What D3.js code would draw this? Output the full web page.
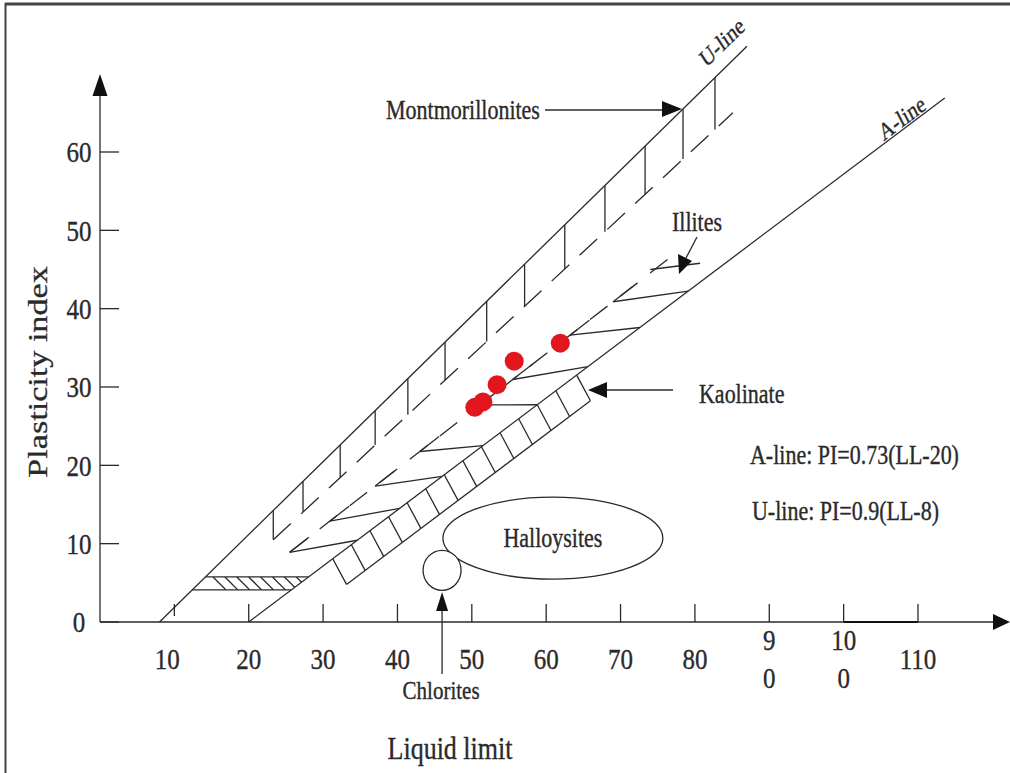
<!DOCTYPE html>
<html><head><meta charset="utf-8">
<script src="https://cdn.jsdelivr.net/npm/d3@7"></script>
<style>
html,body{margin:0;padding:0;background:#fff;}
svg{display:block;}
text{font-family:"Liberation Serif","Times New Roman",serif;fill:#2a2a2a;stroke:#2a2a2a;stroke-width:0.3px;}
</style>
</head><body>
<svg id="c" width="1010" height="773"></svg>
<script>
// ---------- data (liquid limit LL, plasticity index PI) ----------
const xTicks = [10,20,30,40,50,60,70,80,90,100,110];
const xTickLabels = [["10"],["20"],["30"],["40"],["50"],["60"],["70"],["80"],["9","0"],["10","0"],["110"]];
const yTicks = [0,10,20,30,40,50,60];
const yTickLabels = ["0","10","20","30","40","50","60"];

const uLine = [[8,0],[87.0,73.5]];
const aLine = [[20,0],[113.6,66.9]];
const montLower = [[23.3,10.5],[85.1,65.0]];     // dashed lower limit of montmorillonites
const illiteUpper = [[25.5,8.9],[78.0,47.5]];    // dashed upper limit of illites
const montHatchLL = [23.3,27.3,32.3,37.0,41.4,46.4,52.0,57.1,62.5,67.9,73.3,78.4,82.7];
const illiteHatchLeftLL  = [25.5,30.9,37.0,43.0,51.1,55.5,63.2,69.0];
const illiteHatchRightLL = [34.6,40.3,46.0,51.5,58.8,65.6,72.6,79.1];
const illiteTopHatch = [[74.0,45.0],[80.7,45.8]];
const kaoTopLL = [31.3,33.8,36.3,38.8,41.3,43.8,46.3,48.8,51.3,53.8,56.3,58.8,61.3,64.1];
const kaoShiftLL = 1.85, kaoDropPI = 4.6;
const clmlPI = [4.1, 5.75];
const clmlHatchLL = [15.2,16.8,18.4,20.0,21.6,23.2,24.8,26.4];
const sampleLL = [50.4,51.5,53.4,55.7,61.9];
const samplePI = [27.4,28.1,30.3,33.3,35.6];

// ---------- layout ----------
const W = 1010, H = 773, SY = 1.22, INK = "#2a2a2a";
const x = d3.scaleLinear().domain([0,110]).range([100,918]);
const y = d3.scaleLinear().domain([0,60]).range([622,152]);
const svg = d3.select("#c");
svg.append("rect").attr("width",W).attr("height",H).attr("fill","#fff");

// frame
svg.append("line").attr("x1",5).attr("x2",W).attr("y1",4).attr("y2",4).attr("stroke","#444").attr("stroke-width",3);
svg.append("line").attr("x1",5.5).attr("x2",5.5).attr("y1",3).attr("y2",H).attr("stroke","#444").attr("stroke-width",2);

const g = svg.append("g").attr("fill","none").attr("stroke",INK).attr("stroke-width",1.3);
const line = d3.line().x(d=>x(d[0])).y(d=>y(d[1]));
const at = (seg, ll) => { const [a,b]=seg; return a[1] + (b[1]-a[1])*(ll-a[0])/(b[0]-a[0]); };

function text(px, py, str, size, anchor, rot){
  return svg.append("text")
    .attr("transform",`translate(${px},${py}) scale(1,${SY})${rot?` rotate(${rot})`:""}`)
    .attr("text-anchor",anchor||"middle").attr("dominant-baseline","central")
    .attr("font-size",size).text(str);
}

// axes
g.append("line").attr("x1",x(0)).attr("x2",x(0)).attr("y1",y(0)).attr("y2",94);
g.append("line").attr("x1",x(0)).attr("x2",994).attr("y1",y(0)).attr("y2",y(0));
g.append("line").attr("x1",x(100)).attr("x2",x(110)).attr("y1",y(0)).attr("y2",y(0)).attr("stroke-width",2.2).attr("stroke","#111");
svg.append("path").attr("d",`M${x(0)},74 L${x(0)-7.5},96 L${x(0)+7.5},96 Z`).attr("fill","#111");
svg.append("path").attr("d",`M1010,${y(0)} L993,${y(0)-8} L993,${y(0)+8} Z`).attr("fill","#111");

// y ticks
g.selectAll(".yt").data(yTicks).enter().append("line")
  .attr("x1",x(0)).attr("x2",x(0)+19).attr("y1",d=>y(d)).attr("y2",d=>y(d));
yTicks.forEach((v,i)=> text(79, y(v), yTickLabels[i], 25));
// x ticks
g.selectAll(".xt").data(xTicks).enter().append("line")
  .attr("x1",d=>x(d)).attr("x2",d=>x(d)).attr("y1",d=> d===10 ? y(0)-6 : y(0)).attr("y2",y(0)-18);
xTicks.forEach((v,i)=>{
  const lab = xTickLabels[i];
  const cx = x(v) + (v===10 ? -7 : 0);
  if (lab.length===1) text(cx, 659, lab[0], 25);
  else { text(cx, 640, lab[0], 25); text(cx, 678, lab[1], 25); }
});

// axis titles
text(450, 748, "Liquid limit", 26);
text(38, 372, "Plasticity index", 28, "middle", -90);

// U-line and A-line
g.append("path").attr("d", line(uLine));
g.append("path").attr("d", line(aLine));
const angU = -Math.atan((y(uLine[0][1])-y(uLine[1][1]))/(x(uLine[1][0])-x(uLine[0][0]))/SY)*180/Math.PI;
const angA = -Math.atan((y(aLine[0][1])-y(aLine[1][1]))/(x(aLine[1][0])-x(aLine[0][0]))/SY)*180/Math.PI;
text(722, 42, "U-line", 20, "middle", angU);
text(902, 118, "A-line", 20, "middle", angA);

// Montmorillonites zone
g.append("path").attr("d", line(montLower)).attr("stroke-dasharray","24,14");
montHatchLL.forEach(ll=>{
  g.append("line").attr("x1",x(ll)).attr("x2",x(ll)).attr("y1",y(at(uLine,ll))).attr("y2",y(at(montLower,ll)));
});

// Illites zone
g.append("path").attr("d", line(illiteUpper)).attr("stroke-dasharray","22,16");
illiteHatchLeftLL.forEach((ll,i)=>{
  const r = illiteHatchRightLL[i];
  g.append("line").attr("x1",x(ll)).attr("y1",y(at(illiteUpper,ll))).attr("x2",x(r)).attr("y2",y(at(aLine,r)));
  const ll2 = ll + 2.6;
  g.append("line").attr("x1",x(ll)).attr("y1",y(at(illiteUpper,ll))).attr("x2",x(ll2)).attr("y2",y(at(illiteUpper,ll2)));
});
g.append("path").attr("d", line(illiteTopHatch));

// Kaolinite band
const kFirst = kaoTopLL[0], kLast = kaoTopLL[kaoTopLL.length-1];
g.append("line").attr("x1",x(kFirst+kaoShiftLL)).attr("y1",y(at(aLine,kFirst+kaoShiftLL)-kaoDropPI))
  .attr("x2",x(kLast+kaoShiftLL)).attr("y2",y(at(aLine,kLast+kaoShiftLL)-kaoDropPI));
kaoTopLL.forEach(ll=>{
  const l2 = ll + kaoShiftLL;
  g.append("line").attr("x1",x(ll)).attr("y1",y(at(aLine,ll))).attr("x2",x(l2)).attr("y2",y(at(aLine,l2)-kaoDropPI));
});

// CL-ML band
const llAtU = pi => uLine[0][0] + (pi-uLine[0][1])*(uLine[1][0]-uLine[0][0])/(uLine[1][1]-uLine[0][1]);
const llAtA = pi => aLine[0][0] + (pi-aLine[0][1])*(aLine[1][0]-aLine[0][0])/(aLine[1][1]-aLine[0][1]);
clmlPI.forEach(pi=>{
  g.append("line").attr("x1",x(llAtU(pi))).attr("x2",x(llAtA(pi))).attr("y1",y(pi)).attr("y2",y(pi));
});
const clipPts = [[llAtU(clmlPI[0]),clmlPI[0]],[llAtU(clmlPI[1]),clmlPI[1]],[llAtA(clmlPI[1]),clmlPI[1]],[llAtA(clmlPI[0]),clmlPI[0]]];
svg.append("clipPath").attr("id","clml").append("path").attr("d", line(clipPts)+"Z");
const hg = g.append("g").attr("clip-path","url(#clml)");
clmlHatchLL.forEach(ll=>{
  hg.append("line").attr("x1",x(ll)).attr("y1",y(clmlPI[1])).attr("x2",x(ll)+(y(clmlPI[0])-y(clmlPI[1]))).attr("y2",y(clmlPI[0]));
});

// Halloysites & Chlorites
g.append("ellipse").attr("cx",x(60.9)).attr("cy",y(10.7)).attr("rx",110).attr("ry",41);
text(x(60.9), y(10.7), "Halloysites", 22);
g.append("ellipse").attr("cx",x(46.0)).attr("cy",y(6.6)).attr("rx",19).attr("ry",20).attr("fill","#fff");
g.append("line").attr("x1",x(46.0)).attr("x2",x(46.0)).attr("y1",608).attr("y2",674);
svg.append("path").attr("d",`M${x(46.0)},592 L${x(46.0)-6},611 L${x(46.0)+6},611 Z`).attr("fill","#111");
text(x(46.0)-1, 690, "Chlorites", 21);

// Montmorillonites label + arrow
text(463, 110, "Montmorillonites", 22);
g.append("line").attr("x1",545).attr("x2",664).attr("y1",110).attr("y2",110);
svg.append("path").attr("d",`M682,109 L662,101 L662,117 Z`).attr("fill","#111");

// Illites label + arrow
text(697, 222, "Illites", 22);
g.append("line").attr("x1",697).attr("y1",237).attr("x2",686).attr("y2",258);
svg.append("path").attr("d",`M679,274 L678,254 L692,261 Z`).attr("fill","#111");

// Kaolinate label + arrow
text(699, 394, "Kaolinate", 22, "start");
g.append("line").attr("x1",606).attr("x2",673).attr("y1",390).attr("y2",390);
svg.append("path").attr("d",`M588,390 L607,382 L607,398 Z`).attr("fill","#111");

// formulas
text(750, 455, "A-line: PI=0.73(LL-20)", 22, "start");
text(752, 511, "U-line: PI=0.9(LL-8)", 22, "start");

// samples
svg.selectAll(".pt").data(sampleLL).enter().append("circle")
  .attr("cx",d=>x(d)).attr("cy",(d,i)=>y(samplePI[i])).attr("r",9.5)
  .attr("fill","#e3161d");
</script>
</body></html>
